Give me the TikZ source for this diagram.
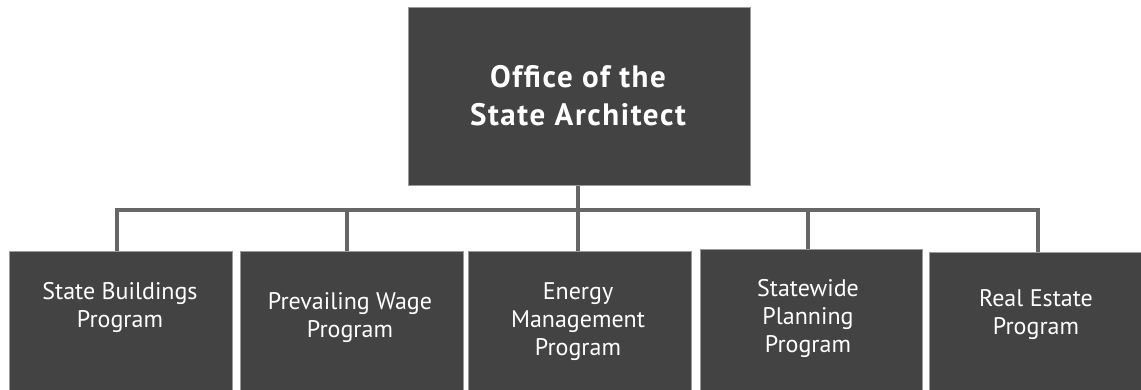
\documentclass[tikz,border=0pt]{standalone}
\usepackage{fontspec}
\setmainfont{PT Sans}
\definecolor{boxfill}{HTML}{434343}
\definecolor{boxline}{HTML}{9A9A9A}
\definecolor{conn}{HTML}{666666}
\tikzset{
  orgbox/.style={draw=boxline, line width=0.8pt, fill=boxfill, anchor=north west, inner sep=0pt},
  toptxt/.style={text=white, align=center, font=\fontsize{31}{38}\selectfont\bfseries\addfontfeatures{LetterSpace=5}},
  subtxt/.style={text=white, align=center, font=\fontsize{24}{28}\selectfont},
  link/.style={draw=conn, line width=4pt}
}
\begin{document}
\begin{tikzpicture}[x=1pt,y=-1pt]
\useasboundingbox (0,0) rectangle (1141,390);
% boxes
\node[orgbox, minimum width=342pt, minimum height=178pt] (top) at (408,7.5) {};
\node[orgbox, minimum width=223pt, minimum height=142pt] (b1) at (8.5,251) {};
\node[orgbox, minimum width=223pt, minimum height=142pt] (b2) at (239.5,251) {};
\node[orgbox, minimum width=223pt, minimum height=142pt] (b3) at (467.5,251) {};
\node[orgbox, minimum width=222pt, minimum height=143pt] (b4) at (699.5,249.5) {};
\node[orgbox, minimum width=215pt, minimum height=141pt] (b5) at (928.5,252) {};
% connectors
\coordinate (h) at (578,210);
\coordinate (hl) at (117,210);
\coordinate (hr) at (1038,210);
\draw[link] (top.south -| h) -- (b3.north -| h);
\draw[link, line cap=rect] (hl) -- (hr);
\draw[link] (hl) -- (b1.north -| hl);
\draw[link] (347,210) coordinate (v2) -- (b2.north -| v2);
\draw[link] (808,210) coordinate (v4) -- (b4.north -| v4);
\draw[link] (hr) -- (b5.north -| hr);
% texts
\node[toptxt] (ttop) at (578,96) {Office of the\\State Architect};
\node[subtxt] (t1) at (120,307.5) {State Buildings\\Program};
\node[subtxt] (t2) at (350,318) {Prevailing Wage\\Program};
\node[subtxt] (t3) at (578,322) {Energy\\Management\\Program};
\node[subtxt] (t4) at (808,318) {Statewide\\Planning\\Program};
\node[subtxt] (t5) at (1036,315) {Real Estate\\Program};
\end{tikzpicture}
\end{document}
